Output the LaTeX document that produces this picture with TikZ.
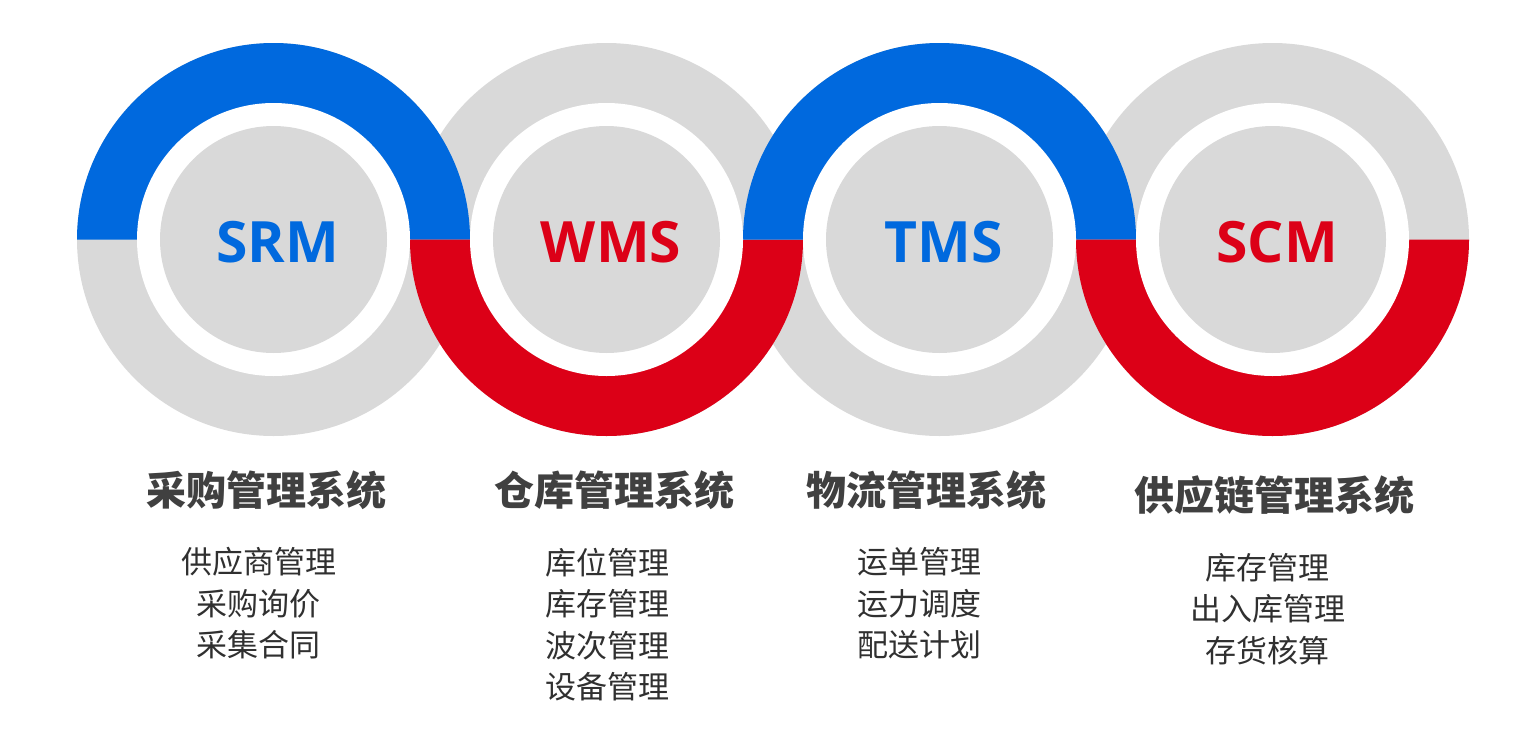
\documentclass[tikz,border=0pt]{standalone}
\usepackage{fontspec}
\setmainfont{Open Sans}
\newfontfamily\cjk{Noto Sans CJK SC}
\definecolor{cblue}{HTML}{0069DE}
\definecolor{cred}{HTML}{DC0017}
\definecolor{cgray}{HTML}{D9D9D9}
\definecolor{ctitle}{HTML}{404040}
\definecolor{citem}{HTML}{303030}
\tikzset{
  abbr/.style={font=\fontsize{57}{60}\selectfont\bfseries, inner sep=0pt},
  title/.style={font=\cjk\bfseries\fontsize{40}{44}\selectfont, text=ctitle, inner sep=0pt},
  items/.style={font=\cjk\fontsize{31}{41.5}\selectfont, text=citem, align=center, inner sep=0pt},
}
\newcommand{\Ro}{196.5}
\newcommand{\Rw}{136.5}
\newcommand{\Ri}{113.5}
\begin{document}
\begin{tikzpicture}[x=1pt,y=-1pt]
\useasboundingbox (0,0) rectangle (1522,736);
\coordinate (c1) at (273.5,239.5);
\coordinate (c2) at (606.5,239.5);
\coordinate (c3) at (939.5,239.5);
\coordinate (c4) at (1272.5,239.5);
% gray outer discs
\foreach \c in {c1,c2,c3,c4} \fill[cgray] (\c) circle[radius=\Ro];
% coloured halves
\fill[cblue] (c1) ++(-\Ro,0) arc[start angle=180,end angle=360,radius=\Ro] -- cycle;
\fill[cred]  (c2) ++(-\Ro,0) arc[start angle=180,end angle=0,radius=\Ro] -- cycle;
\fill[cblue] (c3) ++(-\Ro,0) arc[start angle=180,end angle=360,radius=\Ro] -- cycle;
\fill[cred]  (c4) ++(-\Ro,0) arc[start angle=180,end angle=0,radius=\Ro] -- cycle;
% white rings and inner discs
\foreach \c in {c1,c2,c3,c4} {
  \fill[white] (\c) circle[radius=\Rw];
  \fill[cgray] (\c) circle[radius=\Ri];
}
% abbreviations
\node[abbr, text=cblue] (a1) at (277.5,242.5) {SRM};
\node[abbr, text=cred]  (a2) at (611,242.5) {WMS};
\node[abbr, text=cblue] (a3) at (943.5,242.5) {TMS};
\node[abbr, text=cred]  (a4) at (1277,242.5) {SCM};
% titles
\node[title] (t1) at (266,490) {采购管理系统};
\node[title] (t2) at (614,490) {仓库管理系统};
\node[title] (t3) at (926,490) {物流管理系统};
\node[title] (t4) at (1274.5,495) {供应链管理系统};
% items
\node[items] (i1) at (258.5,603.5) {供应商管理\\采购询价\\采集合同};
\node[items] (i2) at (607,624.5) {库位管理\\库存管理\\波次管理\\设备管理};
\node[items] (i3) at (919.5,603.5) {运单管理\\运力调度\\配送计划};
\node[items] (i4) at (1267.5,609) {库存管理\\出入库管理\\存货核算};
\end{tikzpicture}
\end{document}
